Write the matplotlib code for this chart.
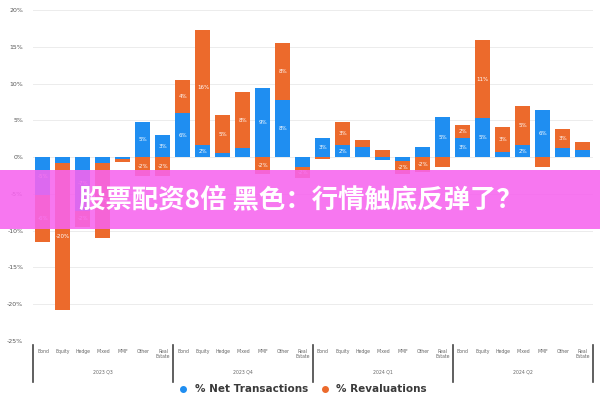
import numpy as np
import matplotlib.pyplot as plt
from matplotlib.lines import Line2D
from matplotlib.patches import Rectangle

# Data (percent)
categories = ['Bond', 'Equity', 'Hedge', 'Mixed', 'MMF', 'Other', 'Real\nEstate']
quarters = ['2023 Q3', '2023 Q4', '2024 Q1', '2024 Q2']
net_transactions = [-5.2, -0.8, -7.3, -0.8, -0.2, 4.8, 3.0,
                    6.0, 1.6, 0.5, 1.2, 9.4, 7.7, -1.3,
                    2.6, 1.6, 1.4, -0.4, -0.5, 1.4, 5.4,
                    2.6, 5.3, 0.7, 1.6, 6.4, 1.2, 1.0]
revaluations = [-6.3, -20.0, -2.2, -10.2, -0.4, -2.5, -2.5,
                4.5, 15.7, 5.2, 7.6, -2.3, 7.8, -1.5,
                -0.3, 3.2, 0.9, 1.0, -1.8, -2.0, -1.3,
                1.8, 10.6, 3.4, 5.3, -1.4, 2.6, 1.0]
yticks = [20, 15, 10, 5, 0, -5, -10, -15, -20, -25]

blue = '#1f8ef1'
orange = '#ec6a2c'

fig = plt.figure(figsize=(6, 4), dpi=100)
ax = fig.add_axes([0.055, 0.1475, 0.933, 0.8275])

net = np.array(net_transactions)
rev = np.array(revaluations)
x = np.arange(len(net))

# diverging stack: revaluations stacked on net when same sign, else from zero
rev_bottom = np.where(np.sign(rev) == np.sign(net), net, 0)
ax.bar(x, net, width=0.75, color=blue, zorder=2)
ax.bar(x, rev, width=0.75, bottom=rev_bottom, color=orange, zorder=2)

# value labels
for xi, b, v in zip(x, np.zeros_like(net), net):
    if abs(v) >= 1.5:
        ax.text(xi, b + v / 2, f'{round(v)}%', color='white', fontsize=4,
                ha='center', va='center', zorder=3)
for xi, b, v in zip(x, rev_bottom, rev):
    if abs(v) >= 1.5:
        ax.text(xi, b + v / 2, f'{round(v)}%', color='white', fontsize=4,
                ha='center', va='center', zorder=3)

ax.set_xlim(-0.5, len(net) - 0.5)
ax.set_ylim(-25, 20)
ax.set_yticks(yticks)
ax.set_yticklabels([f'{t}%' for t in yticks], fontsize=4.5, color='#555555')
ax.tick_params(axis='y', length=0, pad=7)
ax.set_xticks([])
ax.grid(axis='y', color='#ececec', lw=0.7, zorder=0)
for s in ax.spines.values():
    s.set_visible(False)

# category and quarter labels, separators
trans = ax.get_xaxis_transform()
n = len(categories)
for g, q in enumerate(quarters):
    for i, c in enumerate(categories):
        ax.text(g * n + i, -0.025, c, transform=trans, fontsize=3.3,
                color='#666666', ha='center', va='top', linespacing=1.0)
    ax.text(g * n + (n - 1) / 2, -0.085, q, transform=trans, fontsize=3.3,
            color='#666666', ha='center', va='top')
for g in range(len(quarters) + 1):
    ax.add_line(Line2D([g * n - 0.5] * 2, [-0.012, -0.125], transform=trans,
                       color='#444444', lw=1.2, clip_on=False))

# legend
handles = [Line2D([], [], marker='o', ls='', color=blue, markersize=4),
           Line2D([], [], marker='o', ls='', color=orange, markersize=4)]
leg = fig.legend(handles, ['% Net Transactions', '% Revaluations'], loc='center',
                 bbox_to_anchor=(0.5, 0.027), ncol=2, frameon=False,
                 handletextpad=0.1, columnspacing=0.6,
                 prop={'size': 7.5, 'weight': 'bold'})
for t in leg.get_texts():
    t.set_color('#3a3a3a')

# overlay banner
fig.patches.append(Rectangle((0, 1 - 229 / 400), 1, 59 / 400, transform=fig.transFigure,
                             facecolor='#f764ef', alpha=0.88, zorder=5))
fig.text(0.502, 1 - 200 / 400, '股票配资8倍 黑色：行情触底反弹了？', color='white',
         fontsize=19, fontweight='bold', ha='center', va='center', zorder=6,
         family=['Noto Sans CJK SC', 'DejaVu Sans'])

fig.savefig('out.png', dpi=100)
